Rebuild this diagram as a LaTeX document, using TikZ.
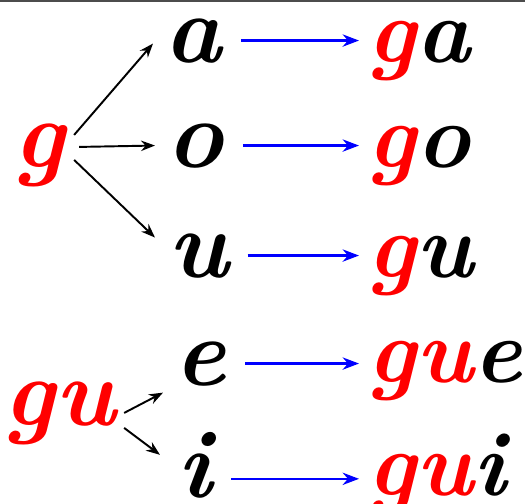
\documentclass[tikz,border=0pt]{standalone}
\usepackage{tikz}
\usetikzlibrary{arrows.meta}

\tikzset{
  letra/.style={font=\fontsize{55}{60}\selectfont\bfseries\itshape, inner sep=2pt, anchor=base west},
  palabra/.style={letra, font=\fontsize{52}{58}\selectfont\bfseries\itshape},
  flecha/.style={->, line width=1.1pt},
  azul/.style={->, line width=1.4pt, blue, shorten <=0.3cm, shorten >=0.1cm}
}

\begin{document}
\begin{tikzpicture}[>=Stealth, x=0.02cm, y=-0.02cm]
  \useasboundingbox (0,0) rectangle (525,504);
  \draw[line width=2pt, gray!60!black] (0,0) -- (525,0);
  % g + a, o, u
  \node[letra, red] (g) at (10,167) {g};
  \node[letra] (a) at (161,62) {a};
  \node[letra] (o) at (163,167) {o};
  \node[letra] (u) at (165,277) {u};
  \draw[flecha] ([shift={(5,-20)}]g.east) -- ([shift={(-8,3)}]a.west);
  \draw[flecha] ([shift={(10,-8)}]g.east) -- ([shift={(-8,0)}]o.west);
  \draw[flecha] ([shift={(5,5)}]g.east) -- ([shift={(-10,-18)}]u.west);
  % gu + e, i
  \node[letra, red] (gu) at (0,425) {gu};
  \node[letra] (e) at (171,385) {e};
  \node[letra] (i) at (174,497) {i};
  \draw[flecha] ([shift={(5,0)}]gu.east) -- ([shift={(-8,3)}]e.south west);
  \draw[flecha] ([shift={(5,15)}]gu.east) -- ([shift={(-14,-10)}]i.west);
  % resultados
  \node[palabra] (ga) at (364,62) {\textcolor{red}{g}a};
  \node[palabra] (go) at (364,167) {\textcolor{red}{g}o};
  \node[palabra] (gu2) at (364,277) {\textcolor{red}{g}u};
  \node[palabra] (gue) at (364,382) {\textcolor{red}{gu}e};
  \node[palabra] (gui) at (364,495) {\textcolor{red}{gu}i};
  \draw[azul] (a.east) -- (a.east -| ga.west);
  \draw[azul] (o.east) -- (o.east -| go.west);
  \draw[azul] (u.east) -- (u.east -| gu2.west);
  \draw[azul] (e.east) -- (e.east -| gue.west);
  \draw[azul] ([shift={(0,14)}]i.east) -- ([shift={(0,14)}]i.east -| gui.west);
\end{tikzpicture}
\end{document}
